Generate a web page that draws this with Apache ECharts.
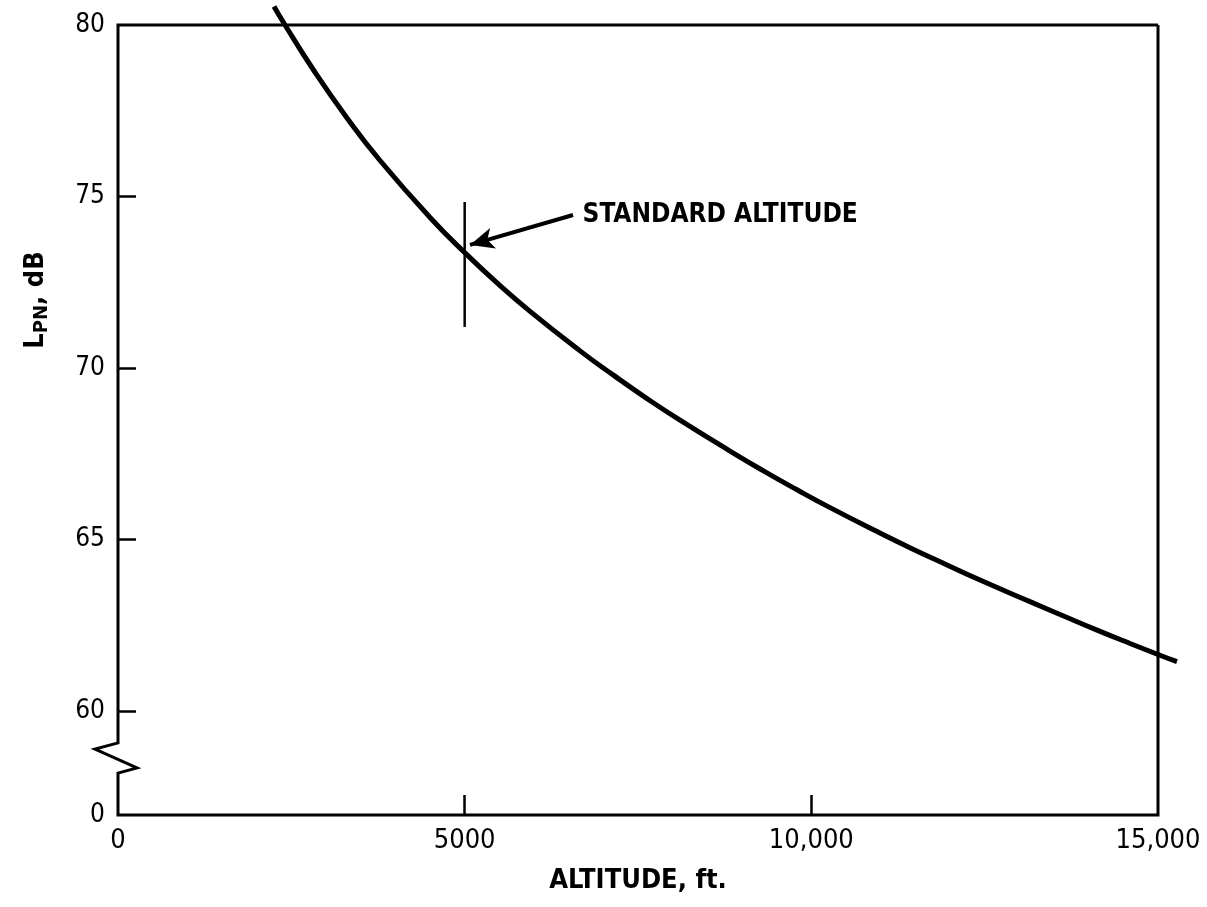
<!DOCTYPE html>
<html><head><meta charset="utf-8">
<script src="https://cdn.jsdelivr.net/npm/echarts@6/dist/echarts.min.js"></script>
<style>html,body{margin:0;padding:0;background:#fff}#c{width:1207px;height:907px}</style>
</head><body><div id="c"></div>
<script>
// Curve: perceived noise level L_PN (dB) vs altitude (ft)
const altitudeFt = [2250, 2409, 2813, 3303, 3779, 4500, 5034, 5467, 5943, 6664, 7140, 7630, 8106, 8827, 9303, 9794, 10270, 10991, 11467, 11957, 12433, 13154, 13630, 14121, 14597, 15000, 15274];
const lpnDb =      [80.54, 80.00, 78.71, 77.29, 76.05, 74.39, 73.30, 72.48, 71.65, 70.50, 69.80, 69.11, 68.48, 67.58, 67.01, 66.45, 65.93, 65.19, 64.72, 64.26, 63.82, 63.19, 62.78, 62.36, 61.97, 61.65, 61.44];

// Axis ticks / labels
const xTicks = [0, 5000, 10000, 15000];
const xTickLabels = ['0', '5000', '10,000', '15,000'];
const yTicks = [60, 65, 70, 75, 80];
const yBreakBottom = 56.97;      // position of the broken-axis "0"
const yBreakLabel = '0';

// Standard altitude annotation
const stdAltitudeFt = 5000;
const stdMarkerDb = [74.84, 71.2];
const arrowFrom = [6563, 74.46];
const arrowTo = [5077, 73.59];
const annotationAt = [6700, 74.46];
const annotationText = 'STANDARD ALTITUDE';

// Plot frame, left side with axis-break zigzag
const frameX = [15000, 0, 0, -332, 274, 0, 0, 15000, 15000];
const frameY = [80, 80, 59.07, 58.89, 58.34, 58.19, yBreakBottom, yBreakBottom, 80];

const FONT = "'DejaVu Sans Condensed', 'Liberation Sans Narrow', 'Roboto Condensed', 'DejaVu Sans', sans-serif";
const zip = (a, b) => a.map((v, i) => [v, b[i]]);

// x range padded so that overflowing marks are not clipped; frame drawn at 0..15000
const X_MIN = -400, X_MAX = 15400;
const PX_PER_FT = 1040 / 15000;
const PAD_PX = 400 * PX_PER_FT;

const chart = echarts.init(document.getElementById('c'), null, {renderer: 'canvas'});
chart.setOption({
  animation: false,
  backgroundColor: '#fff',
  grid: {left: 118 - PAD_PX, width: (X_MAX - X_MIN) * PX_PER_FT, top: 25, bottom: 92, containLabel: false},
  xAxis: [{
    type: 'value', position: 'bottom', min: X_MIN, max: X_MAX,
    axisLine: {show: false, onZero: false},
    axisTick: {show: true, inside: true, length: 20, customValues: [5000, 10000], lineStyle: {color: '#000', width: 2.5}},
    splitLine: {show: false},
    axisLabel: {
      color: '#000', fontFamily: FONT, fontSize: 27, margin: 12,
      customValues: xTicks,
      formatter: v => xTickLabels[xTicks.indexOf(v)]
    },
    name: 'ALTITUDE, ft.', nameLocation: 'middle', nameGap: 52,
    nameTextStyle: {color: '#000', fontFamily: FONT, fontSize: 27, fontWeight: 'bold'}
  }],
  yAxis: [{
    type: 'value', position: 'left', offset: -PAD_PX, min: yBreakBottom, max: 80,
    axisLine: {show: false, onZero: false},
    axisTick: {show: true, inside: true, length: 18, customValues: [60, 65, 70, 75], lineStyle: {color: '#000', width: 2.5}},
    splitLine: {show: false},
    axisLabel: {
      color: '#000', fontFamily: FONT, fontSize: 26, margin: 13,
      customValues: [yBreakBottom].concat(yTicks),
      formatter: v => (v < 59 ? yBreakLabel : String(v))
    }
  }],
  graphic: [{
    type: 'text', x: 36, y: 300, rotation: Math.PI / 2,
    style: {
      text: '{l|L}{s|PN}{l|, dB}',
      align: 'center', verticalAlign: 'middle',
      fill: '#000',
      rich: {
        l: {fontFamily: FONT, fontSize: 27, fontWeight: 'bold', fill: '#000'},
        s: {fontFamily: FONT, fontSize: 20, fontWeight: 'bold', fill: '#000', padding: [12, 0, 0, 0]}
      }
    }
  }],
  series: [{
    name: 'curve', type: 'line', data: zip(altitudeFt, lpnDb),
    showSymbol: false, symbol: 'none', smooth: true, clip: false, z: 5,
    lineStyle: {color: '#000', width: 5}
  }, {
    name: 'frame', type: 'line', data: zip(frameX, frameY),
    showSymbol: false, symbol: 'none', clip: false, z: 4,
    lineStyle: {color: '#000', width: 3, join: 'miter'}
  }, {
    name: 'std', type: 'line', data: stdMarkerDb.map(v => [stdAltitudeFt, v]),
    showSymbol: false, symbol: 'none', clip: false, z: 4,
    lineStyle: {color: '#000', width: 2.5},
    markLine: {
      silent: true, animation: false,
      symbol: ['none', 'arrow'], symbolSize: [16, 24],
      label: {show: false},
      lineStyle: {color: '#000', width: 4, type: 'solid'},
      data: [[{coord: arrowFrom}, {coord: arrowTo}]]
    }
  }, {
    name: 'annotation', type: 'scatter', data: [annotationAt],
    symbolSize: 0, itemStyle: {color: '#000', opacity: 1}, silent: true,
    label: {show: true, position: 'right', distance: 0, formatter: annotationText,
      color: '#000', opacity: 1, fontFamily: FONT, fontSize: 26, fontWeight: 'bold'},
    emphasis: {disabled: true}
  }]
});
</script></body></html>
